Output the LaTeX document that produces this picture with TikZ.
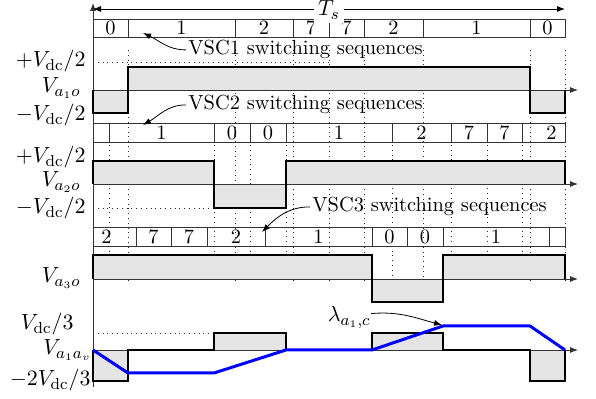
\documentclass[tikz,border=0pt]{standalone}
\usetikzlibrary{arrows.meta}
\begin{document}
\begin{tikzpicture}[x=0.5pt,y=-0.5pt,
  dotline/.style={dotted, line width=0.4pt, black!85},
  grayfill/.style={fill=black!10, draw=none},
  wave/.style={line width=1pt, black, line join=miter},
  rowbox/.style={line width=0.4pt, black!80},
  axisline/.style={line width=0.4pt, black!80, -{Latex[length=4pt,width=3pt]}},
  ann/.style={line width=0.4pt, -{Latex[length=4pt,width=3pt]}},
  bluewave/.style={line width=1.5pt, blue, line join=round},
  lbl/.style={inner sep=0pt, font=\fontsize{11}{13}\selectfont},
  txt/.style={inner sep=0pt, font=\fontsize{10.2}{12}\selectfont},
  digit/.style={inner sep=0pt, font=\fontsize{10.2}{12}\selectfont}
]
\useasboundingbox (0,0) rectangle (596,399);

% ---------- dotted guide lines ----------
\foreach \x in {128,235,293,329,364,423,530,565}
  \draw[dotline] (\x,50) -- (\x,284);
\foreach \x in {109,214,250,286,392,451,487,522}
  \draw[dotline] (\x,145) -- (\x,284);
\draw[dotline] (93,62) -- (329,62);
\draw[dotline] (93,208) -- (214,208);
\draw[dotline] (93,333) -- (286,333);

% ---------- gray fills ----------
\fill[grayfill] (93,90) rectangle (128,113);
\fill[grayfill] (128,67) rectangle (530,90);
\fill[grayfill] (530,90) rectangle (565,113);

\fill[grayfill] (93,161) rectangle (214,184);
\fill[grayfill] (214,184) rectangle (286,208);
\fill[grayfill] (286,161) rectangle (565,184);

\fill[grayfill] (93,255) rectangle (372,279);
\fill[grayfill] (372,279) rectangle (443,302);
\fill[grayfill] (443,255) rectangle (565,279);

\fill[grayfill] (93,350) rectangle (128,381);
\fill[grayfill] (214,333) rectangle (286,350);
\fill[grayfill] (372,333) rectangle (443,350);
\fill[grayfill] (530,350) rectangle (565,381);

% ---------- axes ----------
\coordinate (yb) at (93,387);
\coordinate (yt) at (93,3);
\draw[axisline] (yb) -- (yt);
\foreach \y [count=\i] in {90,184,279,350} {
  \coordinate (xa\i) at (93,\y);
  \coordinate (xb\i) at (578,\y);
  \draw[axisline] (xa\i) -- (xb\i);
}

% ---------- waveforms ----------
\draw[wave] (93,90) -- (93,113) -- (128,113) -- (128,67) -- (530,67) -- (530,113) -- (565,113) -- (565,90);
\draw[wave] (93,184) -- (93,161) -- (214,161) -- (214,208) -- (286,208) -- (286,161) -- (565,161) -- (565,184);
\draw[wave] (93,279) -- (93,255) -- (372,255) -- (372,302) -- (443,302) -- (443,255) -- (565,255) -- (565,279);
\draw[wave] (93,350) -- (93,381) -- (128,381) -- (128,350) -- (214,350) -- (214,333) -- (286,333) -- (286,350)
  -- (372,350) -- (372,333) -- (443,333) -- (443,350) -- (530,350) -- (530,381) -- (565,381) -- (565,350);

% ---------- switching sequence rows ----------
\draw[rowbox] (93,19) rectangle (565,37);
\foreach \x in {128,235,293,329,364,423,530}
  \draw[rowbox] (\x,19) -- (\x,37);
\foreach \x/\t [count=\i] in {110.5/0,181.5/1,264/2,311/7,346.5/7,393.5/2,476.5/1,547.5/0}
  \node[digit] (ra\i) at (\x,28) {\t};

\draw[rowbox] (93,123) rectangle (565,142);
\foreach \x in {109,214,250,286,392,451,487,522}
  \draw[rowbox] (\x,123) -- (\x,142);
\foreach \x/\t [count=\i] in {161.5/1,232/0,268/0,339/1,421.5/2,469/7,504.5/7,551.5/2}
  \node[digit] (rb\i) at (\x,132.5) {\t};

\draw[rowbox] (93,227) rectangle (565,246);
\foreach \x in {136,171,207,265,372,407,443,549}
  \draw[rowbox] (\x,227) -- (\x,246);
\foreach \x/\t [count=\i] in {106.5/2,153.5/7,189/7,236/2,318.5/1,389.5/0,425/0,496/1}
  \node[digit] (rc\i) at (\x,236.5) {\t};

% ---------- blue average line ----------
\draw[bluewave] (93,350) -- (128,373) -- (214,373) -- (286,350) -- (372,350) -- (443,326) -- (530,326) -- (565,350);

% ---------- period arrow ----------
\coordinate (tsl) at (93,9);
\coordinate (tsr) at (565,9);
\draw[line width=0.4pt, {Latex[length=4pt,width=3pt]}-{Latex[length=4pt,width=3pt]}] (tsl) -- (tsr);
\node[fill=white, inner sep=2pt, font=\fontsize{11}{13}\selectfont] (ts) at (329,10) {$T_s$};

% ---------- left labels ----------
\node[lbl, anchor=base east] (l1) at (86,67) {$+V_{\mathrm{dc}}/2$};
\node[lbl, anchor=base east] (l2) at (81,93) {$V_{a_1o}$};
\node[lbl, anchor=base east] (l3) at (86,121) {$-V_{\mathrm{dc}}/2$};
\node[lbl, anchor=base east] (l4) at (86,163) {$+V_{\mathrm{dc}}/2$};
\node[lbl, anchor=base east] (l5) at (81,187) {$V_{a_2o}$};
\node[lbl, anchor=base east] (l6) at (86,214) {$-V_{\mathrm{dc}}/2$};
\node[lbl, anchor=base east] (l7) at (81,283) {$V_{a_3o}$};
\node[lbl, anchor=base east] (l8) at (74,330) {$V_{\mathrm{dc}}/3$};
\node[lbl, anchor=base east] (l9) at (92,355) {$V_{a_1a_v}$};
\node[lbl, anchor=base east] (l10) at (91,386) {$-2V_{\mathrm{dc}}/3$};

% ---------- annotations ----------
\node[txt, anchor=base west] (t1) at (188,55) {VSC1 switching sequences};
\node[txt, anchor=base west] (t2) at (188,110) {VSC2 switching sequences};
\node[txt, anchor=base west] (t3) at (312,212) {VSC3 switching sequences};
\coordinate (p1) at (143,33);
\coordinate (p2) at (143,125);
\coordinate (p3) at (262,232);
\draw[ann] ([xshift=-1pt]t1.west) to[out=180,in=-25] (p1);
\draw[ann] ([xshift=-1pt]t2.west) to[out=180,in=30] (p2);
\draw[ann] ([xshift=-1pt]t3.west) to[out=180,in=45] (p3);

\node[lbl, anchor=base east] (lam) at (371,322) {$\lambda_{a_1,c}$};
\coordinate (p4) at (442,325);
\draw[ann] ([yshift=2pt]lam.east) to[out=5,in=165] (p4);
\end{tikzpicture}
\end{document}
